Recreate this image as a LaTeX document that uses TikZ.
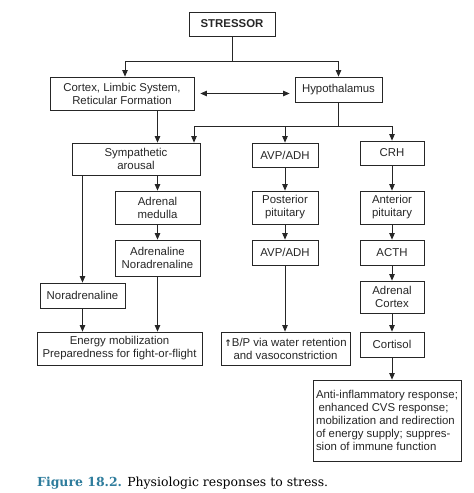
\documentclass[tikz,border=0pt]{standalone}
\usepackage{fontspec}
\setmainfont{Liberation Sans}
\newfontfamily\capfont{DejaVu Serif}
\newfontfamily\symfont{DejaVu Sans}
\usetikzlibrary{arrows.meta}
\definecolor{capblue}{HTML}{2E7C9C}
\definecolor{ink}{HTML}{262626}
\tikzset{
  box/.style={draw=ink, line width=0.8pt, rectangle, align=center, inner sep=0pt,
    font=\fontsize{11.4}{13}\selectfont, text=ink},
  arr/.style={draw=ink, line width=0.8pt, -{Triangle[length=6.5pt,width=5.5pt]}},
  ln/.style={draw=ink, line width=0.8pt},
}
\begin{document}
\begin{tikzpicture}[x=1pt,y=-1pt]
\useasboundingbox (0,0) rectangle (474,493);
% boxes
\node[box, minimum width=86, minimum height=24, font=\fontsize{11.4}{13}\selectfont\bfseries] (stressor) at (232,24) {STRESSOR};
\node[box, minimum width=144, minimum height=33] (cortex) at (122,93.5) {Cortex, Limbic System,\\Reticular Formation};
\node[box, minimum width=87, minimum height=25] (hypo) at (338.5,89.5) {Hypothalamus};
\node[box, minimum width=128, minimum height=32] (symp) at (136,159) {Sympathetic\\arousal};
\node[box, minimum width=66, minimum height=24] (avp1) at (285,155) {AVP/ADH};
\node[box, minimum width=64, minimum height=24] (crh) at (392,153) {CRH};
\node[box, minimum width=85, minimum height=33] (medulla) at (157.5,207.5) {Adrenal\\medulla};
\node[box, minimum width=85, minimum height=36] (adrenaline) at (157.5,258) {Adrenaline\\Noradrenaline};
\node[box, minimum width=66, minimum height=33] (post) at (285,207.5) {Posterior\\pituitary};
\node[box, minimum width=66, minimum height=25] (avp2) at (285,252.5) {AVP/ADH};
\node[box, minimum width=64, minimum height=33] (ant) at (392,207.5) {Anterior\\pituitary};
\node[box, minimum width=64, minimum height=25] (acth) at (392,252.5) {ACTH};
\node[box, minimum width=85, minimum height=25] (nor) at (82.5,295.5) {Noradrenaline};
\node[box, minimum width=64, minimum height=32] (acortex) at (392,297) {Adrenal\\Cortex};
\node[box, minimum width=165, minimum height=33] (energy) at (119.5,348.5) {Energy mobilization\\Preparedness for fight-or-flight};
\node[box, minimum width=129, minimum height=33] (bp) at (285.5,348.5) {{\symfont\bfseries\fontsize{9}{13}\selectfont ↑}B/P via water retention\\and vasoconstriction};
\node[box, minimum width=64, minimum height=25] (cortisol) at (392,344.5) {Cortisol};
\node[box, minimum width=148, minimum height=81, align=left] (anti) at (387,420.5)
  {Anti-inflammatory response;\\\hspace*{2.5pt}enhanced CVS response;\\mobilization and redirection\\of energy supply; suppres-\\sion of immune function};
% junctions
\coordinate (j1) at (232,61);
\coordinate (j2) at (338.5,126);
\coordinate (s1) at (194,126);
% connectors
\draw[ln] (stressor.south) -- (j1);
\draw[arr] (j1) -| ([xshift=3]cortex.north);
\draw[arr] (j1) -| (hypo.north);
\draw[{Triangle[length=6.5pt,width=5.5pt]}-{Triangle[length=6.5pt,width=5.5pt]}, ln] ([xshift=6]cortex.east) -- ([xshift=-5]hypo.west |- cortex.east);
\draw[arr] (cortex.south -| medulla.north) -- (symp.north -| medulla.north);
\draw[ln] (hypo.south) -- (j2);
\draw[arr] (j2) -| (crh.north);
\draw[arr] (j2) -| (avp1.north);
\draw[arr] (j2) -- (s1) -- (symp.north -| s1);
\draw[arr] (symp.south -| nor.north) -- (nor.north);
\draw[arr] (symp.south -| medulla.north) -- (medulla.north);
\draw[arr] (medulla.south) -- (adrenaline.north);
\draw[arr] (adrenaline.south) -- (energy.north -| adrenaline.south);
\draw[arr] (nor.south) -- (energy.north -| nor.south);
\draw[arr] (avp1.south) -- (post.north);
\draw[arr] (post.south) -- (avp2.north);
\draw[arr] (avp2.south) -- (bp.north -| avp2.south);
\draw[arr] (crh.south) -- (ant.north);
\draw[arr] (ant.south) -- (acth.north);
\draw[arr] (acth.south) -- (acortex.north);
\draw[arr] (acortex.south) -- (cortisol.north);
\draw[arr] (cortisol.south) -- (anti.north -| cortisol.south);
% caption
\node[anchor=base west, inner sep=0pt] (caption) at (37,486)
  {\resizebox{291pt}{!}{\capfont\textcolor{capblue}{\bfseries Figure 18.2.} Physiologic responses to stress.}};
\end{tikzpicture}
\end{document}
